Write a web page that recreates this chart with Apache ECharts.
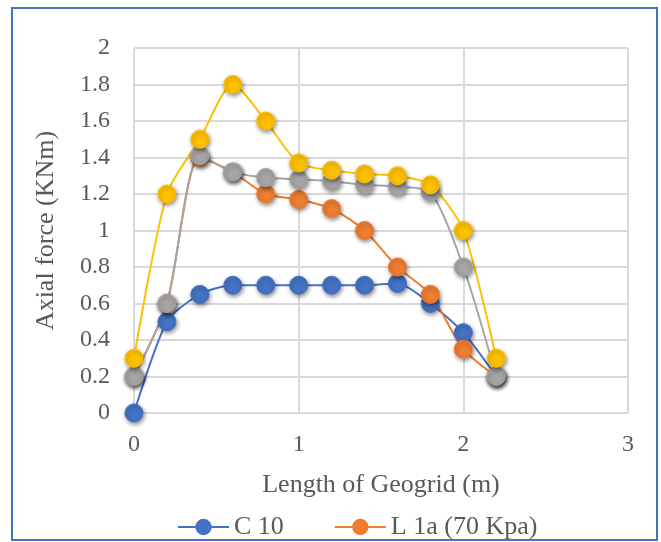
<!DOCTYPE html>
<html>
<head>
<meta charset="utf-8">
<script src="https://cdn.jsdelivr.net/npm/echarts@6/dist/echarts.min.js"></script>
<style>
html,body{margin:0;padding:0;background:#fff;}
#chart{width:661px;height:542px;}
</style>
</head>
<body>
<div id="chart"></div>
<script>
// lengths along geogrid (m)
var lengths = [0, 0.2, 0.4, 0.6, 0.8, 1.0, 1.2, 1.4, 1.6, 1.8, 2.0, 2.2];
var c10     = [0, 0.5, 0.65, 0.7, 0.7, 0.7, 0.7, 0.7, 0.71, 0.6, 0.44, 0.2];
var l1a     = [0.2, 0.6, 1.4, 1.32, 1.2, 1.17, 1.12, 1.0, 0.8, 0.65, 0.35, 0.2];
var series3 = [0.2, 0.6, 1.41, 1.32, 1.29, 1.28, 1.27, 1.25, 1.24, 1.21, 0.8, 0.2];
var series4 = [0.3, 1.2, 1.5, 1.8, 1.6, 1.37, 1.33, 1.31, 1.3, 1.25, 1.0, 0.3];
var yTicks = ['0','0.2','0.4','0.6','0.8','1','1.2','1.4','1.6','1.8','2'];

function pairs(ys){
	var out = [];
	for(var i in lengths){
		out.push([lengths[i], ys[i]]);
	}
	return out;
}

var font = 'Liberation Serif, Times New Roman, serif';
var txtColor = '#595959';

function makeLine(name, color, ys){
	return {
		name : name,
		type : 'line',
		data : pairs(ys),
		smooth : 0.25,
		symbol : 'circle',
		symbolSize : 18,
		lineStyle : { color : color, width : 2 },
		itemStyle : {
			color : color,
			borderColor : color,
			borderWidth : 1,
			shadowBlur : 4,
			shadowOffsetX : 1,
			shadowOffsetY : 2,
			shadowColor : 'rgba(0,0,0,0.45)'
		},
		emphasis : { disabled : true }
	};
}

var myChart = echarts.init(document.getElementById('chart'));
var option = {
	animation : false,
	backgroundColor : '#fff',
	graphic : [ {
		type : 'rect',
		shape : { x : 12, y : 8, width : 645, height : 532 },
		style : { fill : 'none', stroke : '#4472C4', lineWidth : 2 },
		z : -1
	} ],
	grid : {
		left : 134,
		top : 48,
		width : 494,
		height : 365
	},
	legend : {
		data : [ 'C 10', 'L 1a (70 Kpa)' ],
		left : 172,
		top : 509,
		itemWidth : 51,
		itemHeight : 18,
		itemGap : 50,
		textStyle : { fontFamily : font, fontSize : 26, color : txtColor }
	},
	xAxis : {
		type : 'value',
		min : 0,
		max : 3,
		interval : 1,
		name : 'Length of Geogrid (m)',
		nameLocation : 'middle',
		nameGap : 59,
		nameTextStyle : { fontFamily : font, fontSize : 26, color : txtColor },
		axisLine : { show : false },
		axisTick : { show : false },
		axisLabel : { fontFamily : font, fontSize : 24, color : txtColor, margin : 20 },
		splitLine : { show : true, lineStyle : { color : '#d9d9d9', width : 2 } }
	},
	yAxis : {
		type : 'value',
		min : 0,
		max : 2,
		interval : 0.2,
		name : 'Axial force (KNm)',
		nameLocation : 'middle',
		nameGap : 75,
		nameTextStyle : { fontFamily : font, fontSize : 26, color : txtColor },
		axisLine : { show : false },
		axisTick : { show : false },
		axisLabel : {
			fontFamily : font, fontSize : 24, color : txtColor, margin : 24,
			formatter : function(v){
				return yTicks[Math.round(v / 0.2)];
			}
		},
		splitLine : { show : true, lineStyle : { color : '#d9d9d9', width : 2 } }
	},
	series : [
		makeLine('C 10', '#4472C4', c10),
		makeLine('L 1a (70 Kpa)', '#ED7D31', l1a),
		makeLine('Series 3', '#A5A5A5', series3),
		makeLine('Series 4', '#FFC000', series4)
	]
};
myChart.setOption(option);
</script>
</body>
</html>
